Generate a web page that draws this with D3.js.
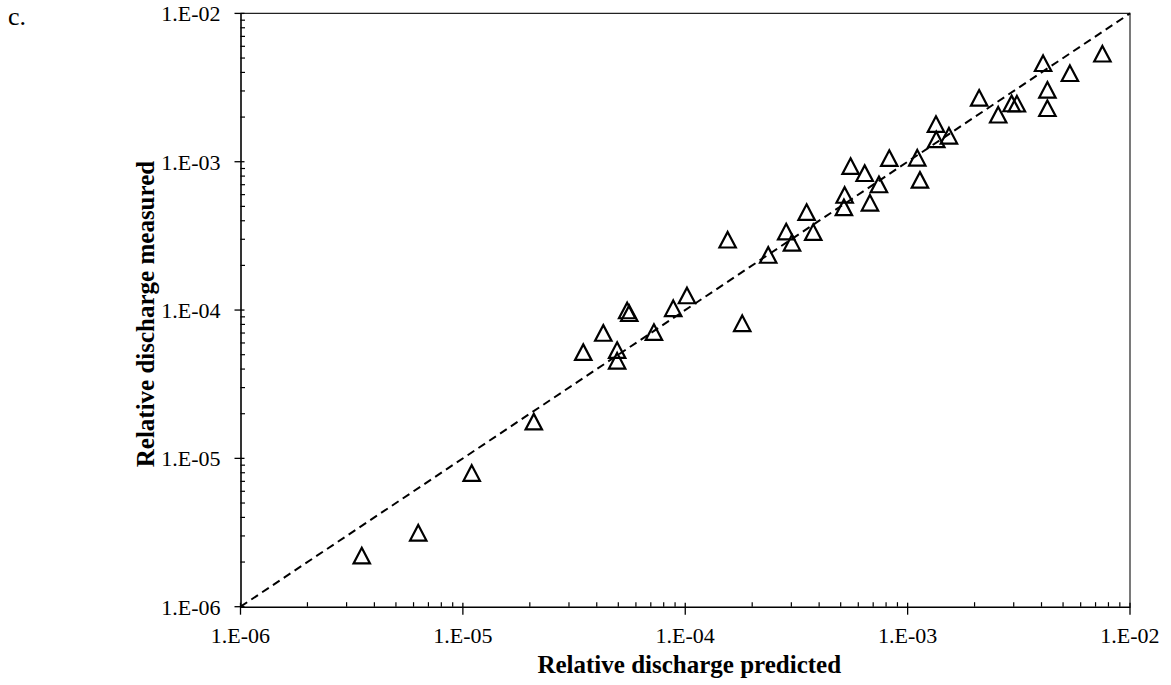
<!DOCTYPE html>
<html>
<head>
<meta charset="utf-8">
<script src="https://cdn.jsdelivr.net/npm/d3@7"></script>
<style>
  html, body { margin: 0; padding: 0; background: #fff; }
  svg { display: block; }
  text { font-family: "Liberation Serif", "Times New Roman", serif; fill: #000; }
</style>
</head>
<body>
<svg id="chart" width="1171" height="685"></svg>
<script>
// Relative discharge: predicted (x) vs measured (y)
const predicted = [
  3.51e-6, 6.30e-6, 1.096e-5, 2.084e-5, 3.478e-5, 4.28e-5, 5.48e-5, 5.60e-5,
  4.94e-5, 4.94e-5, 7.23e-5, 8.83e-5, 1.018e-4, 1.551e-4, 1.804e-4, 2.361e-4,
  2.844e-4, 3.02e-4, 3.514e-4, 3.763e-4, 5.21e-4, 5.17e-4, 5.54e-4, 6.41e-4,
  7.43e-4, 6.77e-4, 8.27e-4, 1.105e-3, 1.136e-3, 1.341e-3, 1.345e-3, 1.534e-3,
  2.097e-3, 2.555e-3, 2.935e-3, 3.10e-3, 4.066e-3, 4.252e-3, 4.252e-3, 5.367e-3,
  7.515e-3
];
const measured = [
  2.21e-6, 3.15e-6, 7.97e-6, 1.768e-5, 5.20e-5, 7.01e-5, 9.94e-5, 9.52e-5,
  5.37e-5, 4.55e-5, 7.10e-5, 1.028e-4, 1.254e-4, 2.98e-4, 8.15e-5, 2.353e-4,
  3.38e-4, 2.843e-4, 4.573e-4, 3.352e-4, 5.97e-4, 4.92e-4, 9.34e-4, 8.37e-4,
  7.03e-4, 5.29e-4, 1.057e-3, 1.064e-3, 7.54e-4, 1.793e-3, 1.414e-3, 1.497e-3,
  2.693e-3, 2.075e-3, 2.472e-3, 2.461e-3, 4.616e-3, 3.049e-3, 2.295e-3, 3.951e-3,
  5.35e-3
];
// Axis extent and decade tick labels
const axisDomain = [1e-6, 1e-2];
const majorTicks = [1e-6, 1e-5, 1e-4, 1e-3, 1e-2];
const tickLabels = ["1.E-06", "1.E-05", "1.E-04", "1.E-03", "1.E-02"];
// 1:1 reference line
const parityLine = [1e-6, 1e-2];

const svg = d3.select("#chart");
const plotLeft = 240.5, plotRight = 1130, plotTop = 13.4, plotBottom = 606.7;

const x = d3.scaleLog().domain(axisDomain).range([plotLeft, plotRight]);
const y = d3.scaleLog().domain(axisDomain).range([plotBottom, plotTop]);

// minor ticks: 2..9 within each decade
const minorTicks = [];
for (let k = 0; k < majorTicks.length - 1; k++) {
  for (let m = 2; m <= 9; m++) minorTicks.push(m * majorTicks[k]);
}

// plot frame (top and right edges)
svg.append("path")
  .attr("d", `M${plotLeft},${plotTop}H${plotRight}V${plotBottom}`)
  .attr("fill", "none")
  .attr("stroke", "#222")
  .attr("stroke-width", 1.2);

// x axis
const xAxis = svg.append("g").attr("transform", `translate(0,${plotBottom})`);
xAxis.call(d3.axisBottom(x).tickValues(majorTicks).tickSize(0).tickFormat(""));
xAxis.select(".domain").attr("stroke", "#000").attr("stroke-width", 1.6);
xAxis.selectAll(".major").data(majorTicks).enter().append("line")
  .attr("x1", d => x(d)).attr("x2", d => x(d))
  .attr("y1", -4).attr("y2", 8)
  .attr("stroke", "#000").attr("stroke-width", 1.3);
xAxis.selectAll(".minor").data(minorTicks).enter().append("line")
  .attr("x1", d => x(d)).attr("x2", d => x(d))
  .attr("y1", -4.5).attr("y2", 0)
  .attr("stroke", "#000").attr("stroke-width", 1.2);
xAxis.selectAll(".lbl").data(majorTicks).enter().append("text")
  .attr("x", d => x(d)).attr("y", 36)
  .attr("text-anchor", "middle")
  .style("font-size", "22px")
  .text((d, i) => tickLabels[i]);

// y axis
const yAxis = svg.append("g").attr("transform", `translate(${plotLeft},0)`);
yAxis.call(d3.axisLeft(y).tickValues(majorTicks).tickSize(0).tickFormat(""));
yAxis.select(".domain").attr("stroke", "#000").attr("stroke-width", 1.6);
yAxis.selectAll(".major").data(majorTicks).enter().append("line")
  .attr("y1", d => y(d)).attr("y2", d => y(d))
  .attr("x1", -6).attr("x2", 4)
  .attr("stroke", "#000").attr("stroke-width", 1.3);
yAxis.selectAll(".minor").data(minorTicks).enter().append("line")
  .attr("y1", d => y(d)).attr("y2", d => y(d))
  .attr("x1", 0).attr("x2", 4.5)
  .attr("stroke", "#000").attr("stroke-width", 1.2);
yAxis.selectAll(".lbl").data(majorTicks).enter().append("text")
  .attr("x", -20).attr("y", d => y(d) + 8)
  .attr("text-anchor", "end")
  .style("font-size", "22px")
  .text((d, i) => tickLabels[i]);

// 1:1 dashed line
svg.append("line")
  .attr("x1", x(parityLine[0])).attr("y1", y(parityLine[0]))
  .attr("x2", x(parityLine[1])).attr("y2", y(parityLine[1]))
  .attr("stroke", "#000")
  .attr("stroke-width", 2)
  .attr("stroke-dasharray", "8,5");

// open triangle markers
const tri = "M0,-7.8L8.2,7.8L-8.2,7.8Z";
svg.append("g").selectAll("path")
  .data(predicted.map((p, i) => [p, measured[i]]))
  .enter().append("path")
  .attr("d", tri)
  .attr("transform", d => `translate(${x(d[0])},${y(d[1])})`)
  .attr("fill", "none")
  .attr("stroke", "#000")
  .attr("stroke-width", 2.2)
  .attr("stroke-linejoin", "miter");

// axis titles
svg.append("text")
  .attr("x", (plotLeft + plotRight) / 2 + 4).attr("y", 673)
  .attr("text-anchor", "middle")
  .style("font-size", "25px").style("font-weight", "bold")
  .text("Relative discharge predicted");

svg.append("text")
  .attr("transform", `translate(153.5,${(plotTop + plotBottom) / 2 + 4}) rotate(-90)`)
  .attr("text-anchor", "middle")
  .style("font-size", "25px").style("font-weight", "bold")
  .text("Relative discharge measured");

// panel letter
svg.append("text")
  .attr("x", 8).attr("y", 25)
  .style("font-size", "26px")
  .text("c.");
</script>
</body>
</html>
